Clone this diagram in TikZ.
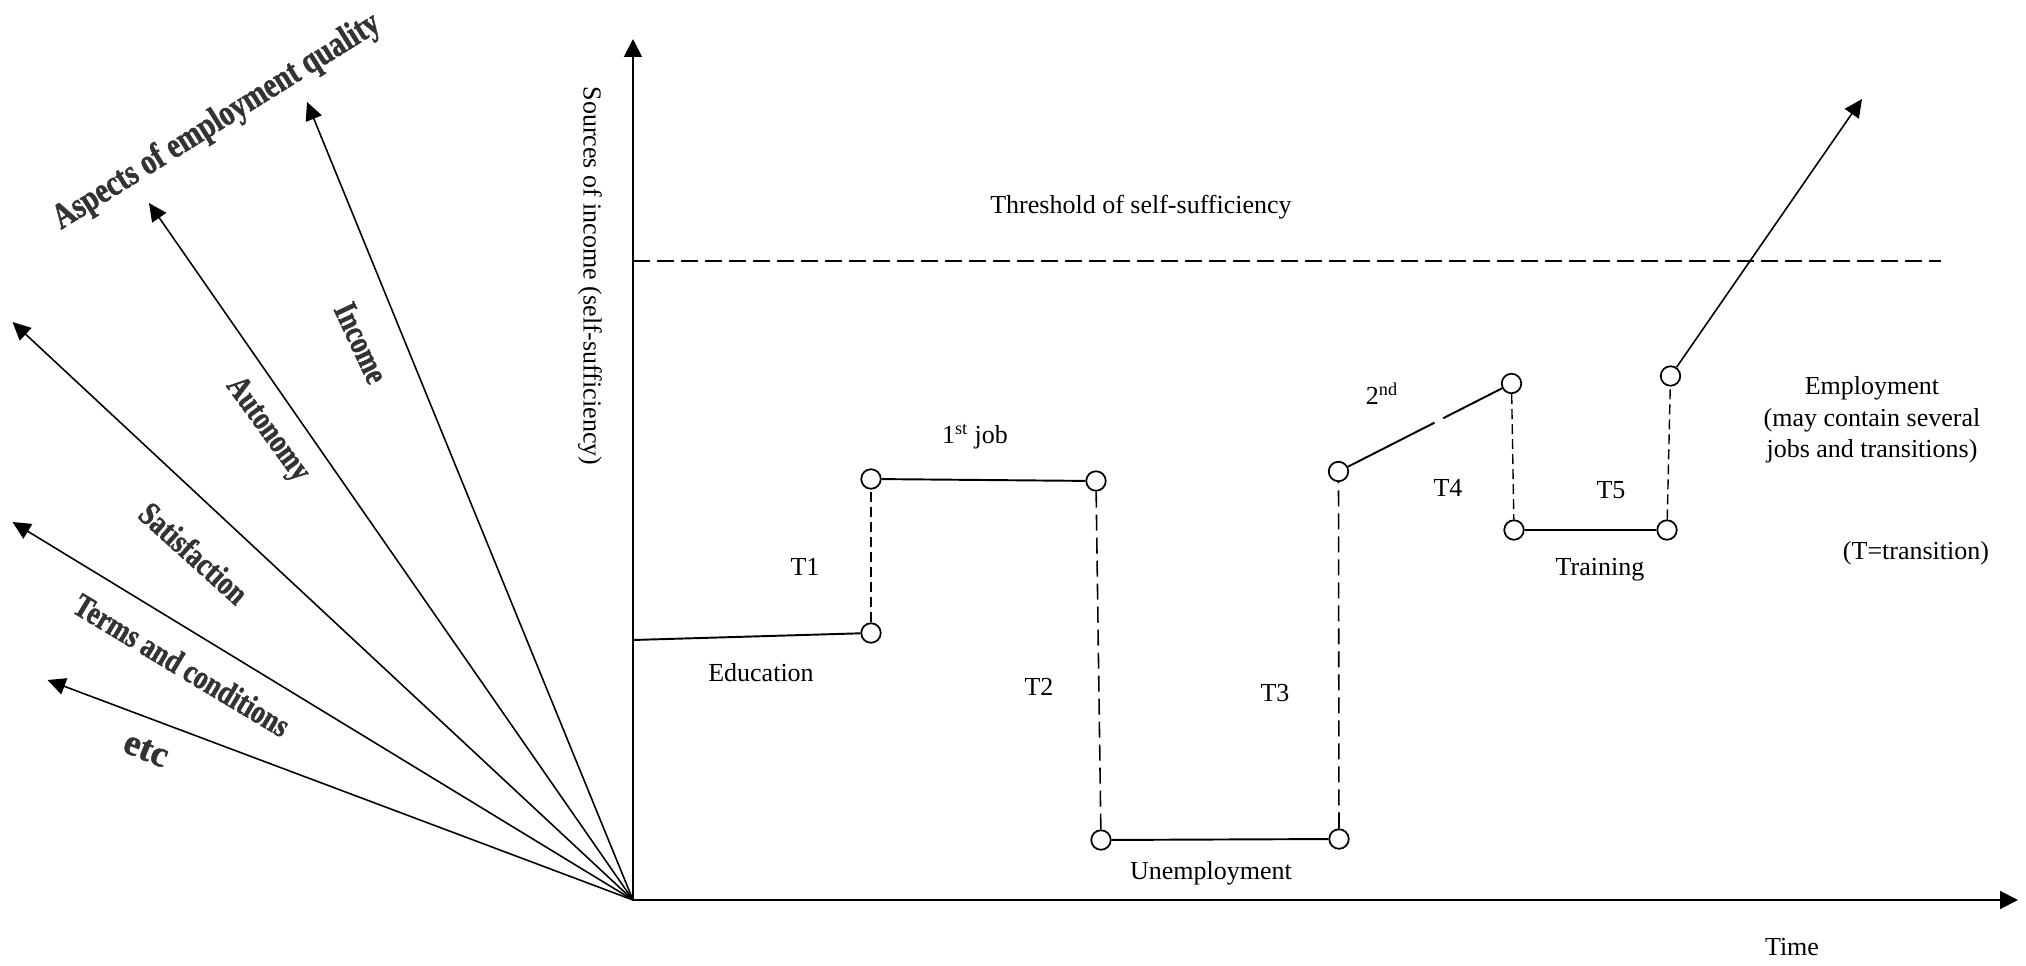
\documentclass[tikz,border=0pt]{standalone}
\usepackage{fontspec}
\setmainfont{Liberation Serif}
\newfontfamily\fanfont[FakeStretch=0.8,BoldFeatures={FakeBold=1.3}]{Liberation Serif}
\newfontfamily\etcfont[BoldFeatures={FakeBold=1.3}]{Liberation Serif}
\usetikzlibrary{arrows.meta,positioning,calc}
\definecolor{fanink}{HTML}{333333}
\definecolor{pathink}{HTML}{000000}
\tikzset{
  axisArrow/.style={-{Triangle[length=3.6mm,width=3.6mm]}, line width=1.1pt, draw=pathink},
  fanArrow/.style={-{Triangle[length=3.6mm,width=3.4mm]}, line width=0.9pt, draw=pathink},
  stateDot/.style={circle, draw=pathink, line width=1pt, fill=white, inner sep=0pt, minimum size=3.9mm},
  stageLine/.style={line width=1.1pt, draw=pathink},
  jumpLine/.style={line width=0.9pt, draw=pathink, dash pattern=on 3.2mm off 1.4mm},
  shortJump/.style={line width=0.8pt, draw=pathink, dash pattern=on 2mm off 1mm},
  thresholdLine/.style={line width=1.1pt, draw=pathink, dash pattern=on 3.4mm off 1.4mm},
  fanLabel/.style={font=\fanfont\bfseries\fontsize{19}{22}\selectfont, text=fanink},
  plainLabel/.style={font=\fontsize{14.8}{18}\selectfont, align=center}
}
\begin{document}
\begin{tikzpicture}
  \useasboundingbox (-12.66,-1.3) rectangle (27.86,18.0);

  \coordinate (origin) at (0,0);
  \coordinate (yTip) at (0,17.22);
  \coordinate (xTip) at (27.7,0);
  \draw[axisArrow] (origin) -- (yTip);
  \draw[axisArrow] (origin) -- (xTip);
  \node[plainLabel, rotate=-90] (yLabel) at (-0.86,12.48) {Sources of income (self-sufficiency)};
  \node[plainLabel] (timeLabel) at (23.18,-0.94) {Time};

  \coordinate (thrStart) at (0,12.78);
  \coordinate (thrEnd) at (26.16,12.78);
  \draw[thresholdLine] (thrStart) -- (thrEnd);
  \node[plainLabel] (thrLabel) at (10.16,13.86) {Threshold of self-sufficiency};

  \coordinate (tipIncome) at (-6.52,15.96);
  \coordinate (tipAutonomy) at (-9.68,13.94);
  \coordinate (tipSatisfaction) at (-12.41,11.56);
  \coordinate (tipTerms) at (-12.41,7.56);
  \coordinate (tipEtc) at (-11.71,4.4);
  \draw[fanArrow] (origin) -- (tipIncome);
  \draw[fanArrow] (origin) -- (tipAutonomy);
  \draw[fanArrow] (origin) -- (tipSatisfaction);
  \draw[fanArrow] (origin) -- (tipTerms);
  \draw[fanArrow] (origin) -- (tipEtc);
  \node[fanLabel, font=\fanfont\bfseries\fontsize{20.5}{24}\selectfont, rotate=32] (aspects) at (-8.32,15.56) {Aspects of employment quality};
  \node[fanLabel, rotate=-65] (income) at (-5.44,11.14) {Income};
  \node[fanLabel, rotate=-54] (autonomy) at (-7.32,9.4) {Autonomy};
  \node[fanLabel, rotate=-42] (satisfaction) at (-8.78,6.94) {Satisfaction};
  \node[fanLabel, rotate=-31] (terms) at (-9.02,4.7) {Terms and conditions};
  \node[fanLabel, font=\etcfont\bfseries\fontsize{21}{24}\selectfont, rotate=-22] (etc) at (-9.74,3.0) {etc};

  \coordinate (eduStart) at (0,5.2);
  \node[stateDot] (d1) at (4.76,5.34) {};
  \node[stateDot] (d2) at (4.76,8.42) {};
  \node[stateDot] (d3) at (9.26,8.38) {};
  \node[stateDot] (d4) at (9.36,1.2) {};
  \node[stateDot] (d5) at (14.12,1.22) {};
  \node[stateDot] (d6) at (14.11,8.57) {};
  \node[stateDot] (d7) at (17.57,10.33) {};
  \node[stateDot] (d8) at (17.62,7.4) {};
  \node[stateDot] (d9) at (20.68,7.4) {};
  \node[stateDot] (d10) at (20.75,10.48) {};
  \coordinate (empTip) at (24.58,16.02);

  \draw[stageLine] (eduStart) -- (d1);
  \draw[shortJump] (d1) -- (d2);
  \draw[stageLine] (d2) -- (d3);
  \draw[jumpLine] (d3) -- (d4);
  \draw[stageLine] (d4) -- (d5);
  \draw[jumpLine] (d5) -- (d6);
  \draw[stageLine] (d6) -- ($(d6)!0.555!(d7)$);
  \draw[stageLine] ($(d6)!0.605!(d7)$) -- (d7);
  \draw[shortJump] (d7) -- (d8);
  \draw[stageLine] (d8) -- (d9);
  \draw[shortJump] (d9) -- (d10);
  \draw[fanArrow] (d10) -- (empTip);

  \node[plainLabel] (education) at (2.56,4.54) {Education};
  \node[plainLabel] (t1) at (3.44,6.66) {T1};
  \node[plainLabel] (firstJob) at (6.84,9.26) {1\textsuperscript{st} job};
  \node[plainLabel] (t2) at (8.12,4.26) {T2};
  \node[plainLabel] (unemployment) at (11.56,0.54) {Unemployment};
  \node[plainLabel] (t3) at (12.84,4.14) {T3};
  \node[plainLabel] (secondJob) at (14.98,10.12) {2\textsuperscript{nd}};
  \node[plainLabel] (t4) at (16.3,8.24) {T4};
  \node[plainLabel] (training) at (19.34,6.6) {Training};
  \node[plainLabel] (t5) at (19.56,8.2) {T5};
  \node[plainLabel] (employment) at (24.78,9.6) {Employment\\(may contain several\\jobs and transitions)};
  \node[plainLabel] (legend) at (25.66,6.94) {(T=transition)};
\end{tikzpicture}
\end{document}
